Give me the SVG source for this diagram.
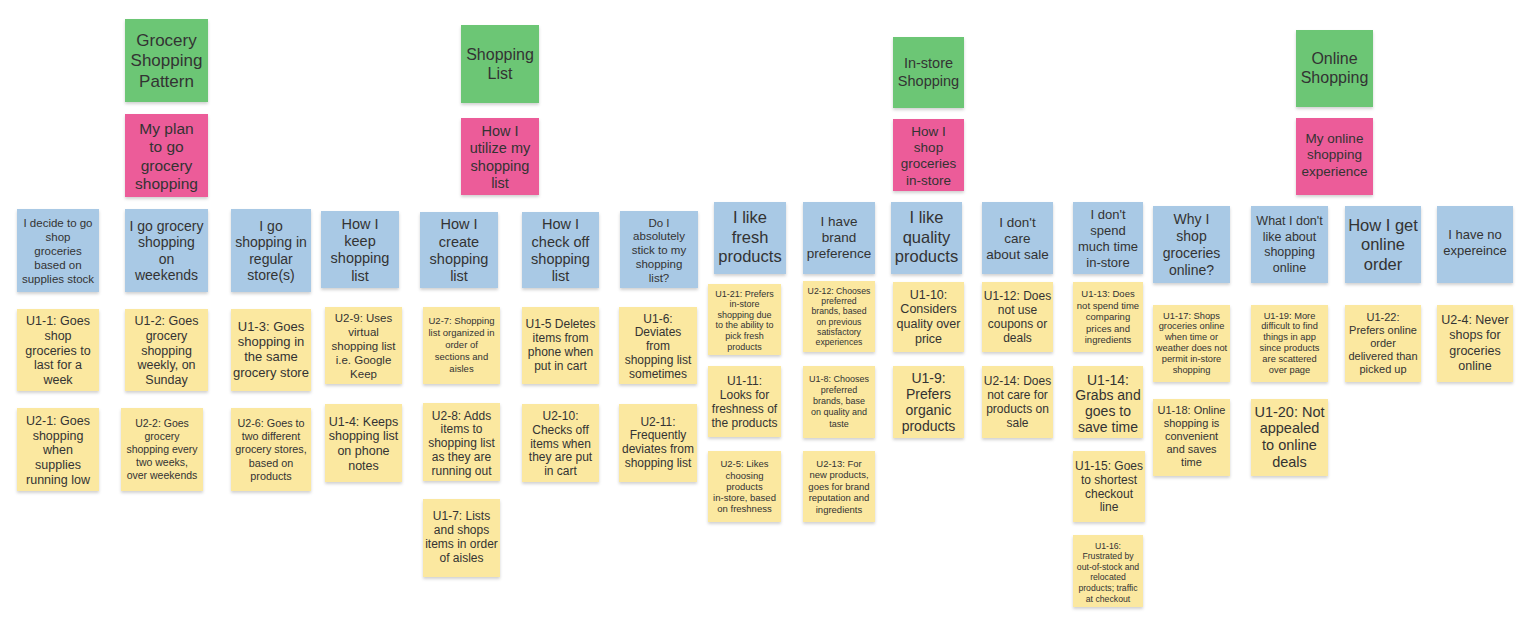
<svg xmlns="http://www.w3.org/2000/svg" width="1533" height="620" viewBox="0 0 1533 620">
<defs>
<filter id="sh" x="-10%" y="-10%" width="125%" height="125%">
<feDropShadow dx="0" dy="2" stdDeviation="1.5" flood-color="#000" flood-opacity="0.18"/>
</filter>
<style>
.g{fill:#6cc674;filter:url(#sh)}
.p{fill:#ec5b99;filter:url(#sh)}
.b{fill:#a9c9e5;filter:url(#sh)}
.y{fill:#fbe8a0;filter:url(#sh)}
text{font-family:"Liberation Sans",Arial,sans-serif;fill:#333;text-anchor:middle}
</style>
</defs>
<rect width="1533" height="620" fill="#fff"/>
<g id="connectors"/>
<!-- Headers -->
<g id="g1"><rect class="g" x="125" y="19" width="83" height="83"/><text font-size="17"><tspan x="166.5" y="45.5">Grocery</tspan><tspan x="166.5" y="66">Shopping</tspan><tspan x="166.5" y="86.5">Pattern</tspan></text></g>
<g id="g2"><rect class="g" x="461" y="25" width="78" height="78"/><text font-size="16"><tspan x="500" y="59.5">Shopping</tspan><tspan x="500" y="78.5">List</tspan></text></g>
<g id="g3"><rect class="g" x="893" y="37" width="71" height="71"/><text font-size="14.5"><tspan x="928.5" y="67.5">In-store</tspan><tspan x="928.5" y="85.5">Shopping</tspan></text></g>
<g id="g4"><rect class="g" x="1296" y="30" width="77" height="77"/><text font-size="16"><tspan x="1334.5" y="63.5">Online</tspan><tspan x="1334.5" y="83">Shopping</tspan></text></g>
<g id="p1"><rect class="p" x="125" y="114" width="83" height="83"/><text font-size="15.5"><tspan x="166.5" y="133.5">My plan</tspan><tspan x="166.5" y="152">to go</tspan><tspan x="166.5" y="170.5">grocery</tspan><tspan x="166.5" y="189">shopping</tspan></text></g>
<g id="p2"><rect class="p" x="461" y="118" width="78" height="77"/><text font-size="14.5"><tspan x="500" y="136">How I</tspan><tspan x="500" y="153.3">utilize my</tspan><tspan x="500" y="170.6">shopping</tspan><tspan x="500" y="187.9">list</tspan></text></g>
<g id="p3"><rect class="p" x="893" y="119" width="71" height="72"/><text font-size="13.5"><tspan x="928.5" y="136">How I</tspan><tspan x="928.5" y="152.2">shop</tspan><tspan x="928.5" y="168.4">groceries</tspan><tspan x="928.5" y="184.6">in-store</tspan></text></g>
<g id="p4"><rect class="p" x="1296" y="118" width="77" height="77"/><text font-size="13.5"><tspan x="1334.5" y="142.5">My online</tspan><tspan x="1334.5" y="159.3">shopping</tspan><tspan x="1334.5" y="176.1">experience</tspan></text></g>
<!-- Blue -->
<g id="b1"><rect class="b" x="17" y="209" width="82" height="83"/><text font-size="11.5"><tspan x="58" y="226.5">I decide to go</tspan><tspan x="58" y="240.5">shop</tspan><tspan x="58" y="254.5">groceries</tspan><tspan x="58" y="268.5">based on</tspan><tspan x="58" y="282.5">supplies stock</tspan></text></g>
<g id="b2"><rect class="b" x="125" y="209" width="83" height="83"/><text font-size="14"><tspan x="166.5" y="230.8">I go grocery</tspan><tspan x="166.5" y="247.3">shopping</tspan><tspan x="166.5" y="263.8">on</tspan><tspan x="166.5" y="280.3">weekends</tspan></text></g>
<g id="b3"><rect class="b" x="231" y="209" width="80" height="83"/><text font-size="14"><tspan x="271" y="230.8">I go</tspan><tspan x="271" y="247.3">shopping in</tspan><tspan x="271" y="263.8">regular</tspan><tspan x="271" y="280.3">store(s)</tspan></text></g>
<g id="b4"><rect class="b" x="321" y="211" width="78" height="77"/><text font-size="14.5"><tspan x="360" y="228.8">How I</tspan><tspan x="360" y="246.1">keep</tspan><tspan x="360" y="263.4">shopping</tspan><tspan x="360" y="280.7">list</tspan></text></g>
<g id="b5"><rect class="b" x="420" y="212" width="78" height="76"/><text font-size="14.5"><tspan x="459" y="229.3">How I</tspan><tspan x="459" y="246.6">create</tspan><tspan x="459" y="263.9">shopping</tspan><tspan x="459" y="281.2">list</tspan></text></g>
<g id="b6"><rect class="b" x="522" y="212" width="77" height="76"/><text font-size="14.5"><tspan x="560.5" y="229.3">How I</tspan><tspan x="560.5" y="246.6">check off</tspan><tspan x="560.5" y="263.9">shopping</tspan><tspan x="560.5" y="281.2">list</tspan></text></g>
<g id="b7"><rect class="b" x="620" y="211" width="78" height="77"/><text font-size="11.5"><tspan x="659" y="226.5">Do I</tspan><tspan x="659" y="240.3">absolutely</tspan><tspan x="659" y="254.1">stick to my</tspan><tspan x="659" y="267.9">shopping</tspan><tspan x="659" y="281.7">list?</tspan></text></g>
<g id="b8"><rect class="b" x="714" y="202" width="72" height="72"/><text font-size="16.5"><tspan x="750" y="223">I like</tspan><tspan x="750" y="242.5">fresh</tspan><tspan x="750" y="262">products</tspan></text></g>
<g id="b9"><rect class="b" x="803" y="202" width="72" height="72"/><text font-size="13.5"><tspan x="839" y="225.5">I have</tspan><tspan x="839" y="241.8">brand</tspan><tspan x="839" y="258.1">preference</tspan></text></g>
<g id="b10"><rect class="b" x="891" y="202" width="71" height="72"/><text font-size="16.5"><tspan x="926.5" y="223">I like</tspan><tspan x="926.5" y="242.5">quality</tspan><tspan x="926.5" y="262">products</tspan></text></g>
<g id="b11"><rect class="b" x="982" y="202" width="71" height="72"/><text font-size="13.5"><tspan x="1017.5" y="226.5">I don't</tspan><tspan x="1017.5" y="242.8">care</tspan><tspan x="1017.5" y="259.1">about sale</tspan></text></g>
<g id="b12"><rect class="b" x="1073" y="202" width="70" height="72"/><text font-size="13"><tspan x="1108" y="218.5">I don't</tspan><tspan x="1108" y="234.5">spend</tspan><tspan x="1108" y="250.5">much time</tspan><tspan x="1108" y="266.5">in-store</tspan></text></g>
<g id="b13"><rect class="b" x="1153" y="206" width="77" height="77"/><text font-size="14"><tspan x="1191.5" y="223.9">Why I</tspan><tspan x="1191.5" y="240.9">shop</tspan><tspan x="1191.5" y="257.9">groceries</tspan><tspan x="1191.5" y="274.9">online?</tspan></text></g>
<g id="b14"><rect class="b" x="1251" y="206" width="77" height="77"/><text font-size="12.5"><tspan x="1289.5" y="225">What I don't</tspan><tspan x="1289.5" y="240.5">like about</tspan><tspan x="1289.5" y="256">shopping</tspan><tspan x="1289.5" y="271.5">online</tspan></text></g>
<g id="b15"><rect class="b" x="1345" y="206" width="76" height="77"/><text font-size="16.5"><tspan x="1383" y="230.5">How I get</tspan><tspan x="1383" y="250">online</tspan><tspan x="1383" y="269.5">order</tspan></text></g>
<g id="b16"><rect class="b" x="1437" y="206" width="76" height="77"/><text font-size="13"><tspan x="1475" y="239">I have no</tspan><tspan x="1475" y="255">expereince</tspan></text></g>
<!-- Yellow -->
<g id="u1-1"><rect class="y" x="17" y="309" width="82" height="82"/><text font-size="12.5"><tspan x="58" y="325.3">U1-1: Goes</tspan><tspan x="58" y="340">shop</tspan><tspan x="58" y="354.7">groceries to</tspan><tspan x="58" y="369.4">last for a</tspan><tspan x="58" y="384.1">week</tspan></text></g>
<g id="u1-2"><rect class="y" x="125" y="309" width="83" height="82"/><text font-size="12.5"><tspan x="166.5" y="325.3">U1-2: Goes</tspan><tspan x="166.5" y="340">grocery</tspan><tspan x="166.5" y="354.7">shopping</tspan><tspan x="166.5" y="369.4">weekly, on</tspan><tspan x="166.5" y="384.1">Sunday</tspan></text></g>
<g id="u2-1"><rect class="y" x="17" y="408" width="82" height="83"/><text font-size="12.5"><tspan x="58" y="425">U2-1:  Goes</tspan><tspan x="58" y="439.7">shopping</tspan><tspan x="58" y="454.4">when</tspan><tspan x="58" y="469.1">supplies</tspan><tspan x="58" y="483.8">running low</tspan></text></g>
<g id="u2-2"><rect class="y" x="121" y="408" width="82" height="83"/><text font-size="10.5"><tspan x="162" y="427.2">U2-2:  Goes</tspan><tspan x="162" y="440.2">grocery</tspan><tspan x="162" y="453.2">shopping every</tspan><tspan x="162" y="466.2">two weeks,</tspan><tspan x="162" y="479.2">over weekends</tspan></text></g>
<g id="u1-3"><rect class="y" x="231" y="309" width="80" height="82"/><text font-size="13"><tspan x="271" y="331">U1-3: Goes</tspan><tspan x="271" y="346.2">shopping in</tspan><tspan x="271" y="361.4">the same</tspan><tspan x="271" y="376.6">grocery store</tspan></text></g>
<g id="u2-6"><rect class="y" x="231" y="408" width="80" height="83"/><text font-size="10.8"><tspan x="271" y="427">U2-6: Goes to</tspan><tspan x="271" y="440.2">two different</tspan><tspan x="271" y="453.4">grocery stores,</tspan><tspan x="271" y="466.6">based on</tspan><tspan x="271" y="479.8">products</tspan></text></g>
<g id="u2-9"><rect class="y" x="325" y="307" width="77" height="77"/><text font-size="11.5"><tspan x="363.5" y="321.8">U2-9: Uses</tspan><tspan x="363.5" y="335.8">virtual</tspan><tspan x="363.5" y="349.8">shopping list</tspan><tspan x="363.5" y="363.8">i.e. Google</tspan><tspan x="363.5" y="377.8">Keep</tspan></text></g>
<g id="u1-4"><rect class="y" x="325" y="404" width="77" height="78"/><text font-size="12.5"><tspan x="363.5" y="425.5">U1-4: Keeps</tspan><tspan x="363.5" y="440.2">shopping list</tspan><tspan x="363.5" y="454.9">on phone</tspan><tspan x="363.5" y="469.6">notes</tspan></text></g>
<g id="u2-7"><rect class="y" x="423" y="307" width="77" height="77"/><text font-size="9.5"><tspan x="461.5" y="324">U2-7: Shopping</tspan><tspan x="461.5" y="336">list organized in</tspan><tspan x="461.5" y="348">order of</tspan><tspan x="461.5" y="360">sections and</tspan><tspan x="461.5" y="372">aisles</tspan></text></g>
<g id="u2-8"><rect class="y" x="423" y="403" width="77" height="78"/><text font-size="12"><tspan x="461.5" y="419.5">U2-8: Adds</tspan><tspan x="461.5" y="433.3">items to</tspan><tspan x="461.5" y="447.1">shopping list</tspan><tspan x="461.5" y="460.9">as they are</tspan><tspan x="461.5" y="474.7">running out</tspan></text></g>
<g id="u1-7"><rect class="y" x="423" y="499" width="77" height="78"/><text font-size="12"><tspan x="461.5" y="520">U1-7: Lists</tspan><tspan x="461.5" y="534">and shops</tspan><tspan x="461.5" y="548">items in order</tspan><tspan x="461.5" y="562">of aisles</tspan></text></g>
<g id="u1-5"><rect class="y" x="522" y="307" width="77" height="77"/><text font-size="12"><tspan x="560.5" y="327.5">U1-5 Deletes</tspan><tspan x="560.5" y="341.7">items  from</tspan><tspan x="560.5" y="355.9">phone when</tspan><tspan x="560.5" y="370.1">put in cart</tspan></text></g>
<g id="u2-10"><rect class="y" x="522" y="404" width="77" height="78"/><text font-size="12"><tspan x="560.5" y="420">U2-10:</tspan><tspan x="560.5" y="433.8">Checks off</tspan><tspan x="560.5" y="447.6">items when</tspan><tspan x="560.5" y="461.4">they are put</tspan><tspan x="560.5" y="475.2">in cart</tspan></text></g>
<g id="u1-6"><rect class="y" x="619" y="307" width="78" height="77"/><text font-size="12"><tspan x="658" y="322.5">U1-6:</tspan><tspan x="658" y="336.3">Deviates</tspan><tspan x="658" y="350.1">from</tspan><tspan x="658" y="363.9">shopping list</tspan><tspan x="658" y="377.7">sometimes</tspan></text></g>
<g id="u2-11"><rect class="y" x="619" y="404" width="78" height="78"/><text font-size="12"><tspan x="658" y="425.5">U2-11:</tspan><tspan x="658" y="439.3">Frequently</tspan><tspan x="658" y="453.1">deviates from</tspan><tspan x="658" y="466.9">shopping list</tspan></text></g>
<g id="u1-21"><rect class="y" x="708" y="284" width="73" height="71"/><text font-size="9"><tspan x="744.5" y="296.5">U1-21: Prefers</tspan><tspan x="744.5" y="307.1">in-store</tspan><tspan x="744.5" y="317.7">shopping  due</tspan><tspan x="744.5" y="328.3">to the ability to</tspan><tspan x="744.5" y="338.9">pick fresh</tspan><tspan x="744.5" y="349.5">products</tspan></text></g>
<g id="u1-11"><rect class="y" x="708" y="366" width="73" height="71"/><text font-size="12"><tspan x="744.5" y="384.5">U1-11:</tspan><tspan x="744.5" y="398.5">Looks for</tspan><tspan x="744.5" y="412.5">freshness of</tspan><tspan x="744.5" y="426.5">the products</tspan></text></g>
<g id="u2-5"><rect class="y" x="708" y="451" width="73" height="71"/><text font-size="9.5"><tspan x="744.5" y="467.4">U2-5: Likes</tspan><tspan x="744.5" y="478.6">choosing</tspan><tspan x="744.5" y="489.8">products</tspan><tspan x="744.5" y="501">in-store, based</tspan><tspan x="744.5" y="512.2">on freshness</tspan></text></g>
<g id="u2-12"><rect class="y" x="803" y="281" width="72" height="71"/><text font-size="8.7"><tspan x="839" y="294">U2-12: Chooses</tspan><tspan x="839" y="304.2">preferred</tspan><tspan x="839" y="314.4">brands, based</tspan><tspan x="839" y="324.6">on previous</tspan><tspan x="839" y="334.8">satisfactory</tspan><tspan x="839" y="345">experiences</tspan></text></g>
<g id="u1-8"><rect class="y" x="803" y="366" width="72" height="72"/><text font-size="9"><tspan x="839" y="381.5">U1-8: Chooses</tspan><tspan x="839" y="392.8">preferred</tspan><tspan x="839" y="404.1">brands, base</tspan><tspan x="839" y="415.4">on quality and</tspan><tspan x="839" y="426.7">taste</tspan></text></g>
<g id="u2-13"><rect class="y" x="803" y="451" width="72" height="71"/><text font-size="9.5"><tspan x="839" y="466.8">U2-13: For</tspan><tspan x="839" y="478.3">new products,</tspan><tspan x="839" y="489.8">goes for brand</tspan><tspan x="839" y="501.3">reputation and</tspan><tspan x="839" y="512.8">ingredients</tspan></text></g>
<g id="u1-10"><rect class="y" x="893" y="282" width="71" height="70"/><text font-size="12.5"><tspan x="928.5" y="298.5">U1-10:</tspan><tspan x="928.5" y="313.2">Considers</tspan><tspan x="928.5" y="327.9">quality over</tspan><tspan x="928.5" y="342.6">price</tspan></text></g>
<g id="u1-9"><rect class="y" x="893" y="366" width="71" height="72"/><text font-size="14"><tspan x="928.5" y="383">U1-9:</tspan><tspan x="928.5" y="399">Prefers</tspan><tspan x="928.5" y="415">organic</tspan><tspan x="928.5" y="431">products</tspan></text></g>
<g id="u1-12"><rect class="y" x="982" y="282" width="71" height="70"/><text font-size="12"><tspan x="1017.5" y="300.3">U1-12: Does</tspan><tspan x="1017.5" y="314.1">not use</tspan><tspan x="1017.5" y="327.9">coupons or</tspan><tspan x="1017.5" y="341.7">deals</tspan></text></g>
<g id="u2-14"><rect class="y" x="982" y="366" width="71" height="72"/><text font-size="12"><tspan x="1017.5" y="385.2">U2-14: Does</tspan><tspan x="1017.5" y="399.2">not care for</tspan><tspan x="1017.5" y="413.2">products on</tspan><tspan x="1017.5" y="427.2">sale</tspan></text></g>
<g id="u1-13"><rect class="y" x="1073" y="282" width="70" height="70"/><text font-size="9.5"><tspan x="1108" y="297">U1-13: Does</tspan><tspan x="1108" y="308.5">not spend time</tspan><tspan x="1108" y="320">comparing</tspan><tspan x="1108" y="331.5">prices and</tspan><tspan x="1108" y="343">ingredients</tspan></text></g>
<g id="u1-14"><rect class="y" x="1073" y="366" width="70" height="72"/><text font-size="14"><tspan x="1108" y="384.5">U1-14:</tspan><tspan x="1108" y="400.3">Grabs and</tspan><tspan x="1108" y="416.1">goes to</tspan><tspan x="1108" y="431.9">save time</tspan></text></g>
<g id="u1-15"><rect class="y" x="1073" y="451" width="72" height="71"/><text font-size="12"><tspan x="1109" y="470.3">U1-15: Goes</tspan><tspan x="1109" y="483.9">to shortest</tspan><tspan x="1109" y="497.5">checkout</tspan><tspan x="1109" y="511.1">line</tspan></text></g>
<g id="u1-16"><rect class="y" x="1073" y="535" width="70" height="72"/><text font-size="8.7"><tspan x="1108" y="548.5">U1-16:</tspan><tspan x="1108" y="559.1">Frustrated by</tspan><tspan x="1108" y="569.7">out-of-stock and</tspan><tspan x="1108" y="580.3">relocated</tspan><tspan x="1108" y="590.9">products; traffic</tspan><tspan x="1108" y="601.5">at checkout</tspan></text></g>
<g id="u1-17"><rect class="y" x="1153" y="305" width="77" height="77"/><text font-size="9.3"><tspan x="1191.5" y="318.5">U1-17: Shops</tspan><tspan x="1191.5" y="329.3">groceries online</tspan><tspan x="1191.5" y="340.1">when time or</tspan><tspan x="1191.5" y="350.9">weather does not</tspan><tspan x="1191.5" y="361.7">permit in-store</tspan><tspan x="1191.5" y="372.5">shopping</tspan></text></g>
<g id="u1-18"><rect class="y" x="1153" y="399" width="77" height="77"/><text font-size="11"><tspan x="1191.5" y="413.5">U1-18: Online</tspan><tspan x="1191.5" y="426.5">shopping is</tspan><tspan x="1191.5" y="439.5">convenient</tspan><tspan x="1191.5" y="452.5">and saves</tspan><tspan x="1191.5" y="465.5">time</tspan></text></g>
<g id="u1-19"><rect class="y" x="1251" y="305" width="77" height="77"/><text font-size="9.3"><tspan x="1289.5" y="318.5">U1-19: More</tspan><tspan x="1289.5" y="329.4">difficult to find</tspan><tspan x="1289.5" y="340.3">things in app</tspan><tspan x="1289.5" y="351.2">since products</tspan><tspan x="1289.5" y="362.1">are scattered</tspan><tspan x="1289.5" y="373">over page</tspan></text></g>
<g id="u1-20"><rect class="y" x="1251" y="399" width="77" height="77"/><text font-size="14.5"><tspan x="1289.5" y="416.5">U1-20: Not</tspan><tspan x="1289.5" y="433.3">appealed</tspan><tspan x="1289.5" y="450.1">to online</tspan><tspan x="1289.5" y="466.9">deals</tspan></text></g>
<g id="u1-22"><rect class="y" x="1345" y="305" width="76" height="77"/><text font-size="11"><tspan x="1383" y="320.5">U1-22:</tspan><tspan x="1383" y="333.7">Prefers online</tspan><tspan x="1383" y="346.9">order</tspan><tspan x="1383" y="360.1">delivered than</tspan><tspan x="1383" y="373.3">picked up</tspan></text></g>
<g id="u2-4"><rect class="y" x="1437" y="305" width="76" height="77"/><text font-size="12.5"><tspan x="1475" y="324">U2-4: Never</tspan><tspan x="1475" y="339.3">shops for</tspan><tspan x="1475" y="354.6">groceries</tspan><tspan x="1475" y="369.9">online</tspan></text></g>
</svg>
